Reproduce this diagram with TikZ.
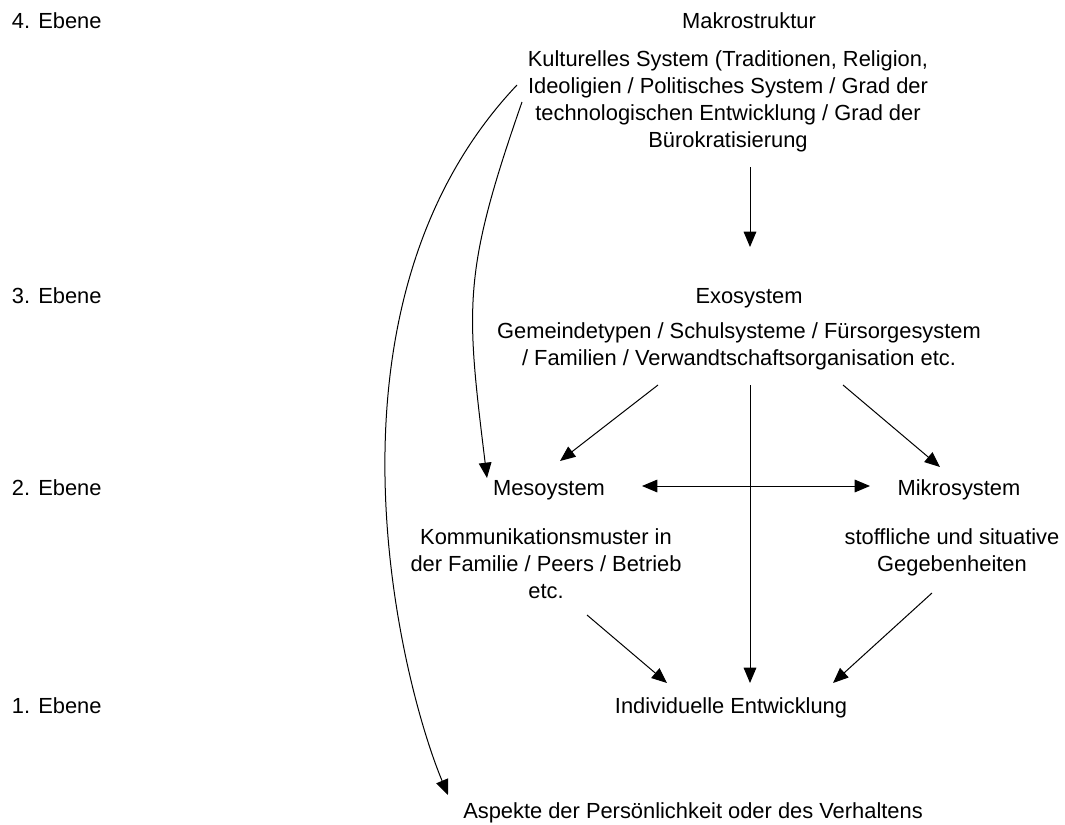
\documentclass[tikz,border=0pt]{standalone}
\usepackage{fontspec}
\setmainfont{Liberation Sans}
\usetikzlibrary{arrows.meta}
\begin{document}
\begin{tikzpicture}[x=0.75pt,y=-0.75pt,
  txt/.style={inner sep=0pt, outer sep=0pt, align=center, anchor=north,
    font=\fontsize{16.4}{20.25}\selectfont, execute at begin node={\strut}},
  lvl/.style={txt, anchor=north west},
  tip/.tip={Triangle[length=11.5pt,width=9.5pt]},
  conn/.style={line width=0.75pt, -tip},
  both/.style={line width=0.75pt, tip-tip}]
\useasboundingbox (0,0) rectangle (1065,825);

% level labels
\node[lvl] (e4) at (12,9.1)   {4. Ebene};
\node[lvl] (e3) at (12,284.1) {3. Ebene};
\node[lvl] (e2) at (12,476.1) {2. Ebene};
\node[lvl] (e1) at (12,694.1) {1. Ebene};

% systems
\node[txt] (makro) at (749,9.1) {Makrostruktur};
\node[txt] (kult) at (728,51.1) {Kulturelles System (Traditionen, Religion,\\
  Ideoligien / Politisches System / Grad der\\
  technologischen Entwicklung / Grad der\\
  Bürokratisierung};
\node[txt] (exo) at (749,284.1) {Exosystem};
\node[txt] (gem) at (739,323.1) {Gemeindetypen / Schulsysteme / Fürsorgesystem\\
  / Familien / Verwandtschaftsorganisation etc.};
\node[txt] (meso) at (549,476.1) {Mesoystem};
\node[txt] (mikro) at (959,476.1) {Mikrosystem};
\node[txt] (komm) at (546,529.1) {Kommunikationsmuster in\\
  der Familie / Peers / Betrieb\\ etc.};
\node[txt] (stoff) at (952,529.1) {stoffliche und situative\\ Gegebenheiten};
\node[txt] (indiv) at (731,694.1) {Individuelle Entwicklung};
\node[txt] (asp) at (693,799.1) {Aspekte der Persönlichkeit oder des Verhaltens};

% connector end points
\coordinate (kultA) at (517,85);
\coordinate (kultB) at (522,102);
\coordinate (aspT)  at (448,795);
\coordinate (mesoT) at (487,478);
\coordinate (kultS) at (750,167);
\coordinate (exoN)  at (750,247);
\coordinate (gemL)  at (658,385);
\coordinate (gemM)  at (750,385);
\coordinate (gemR)  at (843,385);
\coordinate (mesoN) at (560,461);
\coordinate (mikroN) at (940,467);
\coordinate (mesoE) at (642,486);
\coordinate (mikroW) at (870,486);
\coordinate (kommS) at (587,615);
\coordinate (stoffS) at (932,593);
\coordinate (indL)  at (667,683);
\coordinate (indM)  at (750,683);
\coordinate (indR)  at (833,683);

% connectors
\draw[conn] (kultA) .. controls (307,307) and (400,680) .. (aspT);
\draw[conn] (kultB) .. controls (462,274) and (466,306) .. (mesoT);
\draw[conn] (kultS) -- (exoN);
\draw[conn] (gemL) -- (mesoN);
\draw[conn] (gemR) -- (mikroN);
\draw[conn] (gemM) -- (indM);
\draw[both] (mesoE) -- (mikroW);
\draw[conn] (kommS) -- (indL);
\draw[conn] (stoffS) -- (indR);
\end{tikzpicture}
\end{document}
